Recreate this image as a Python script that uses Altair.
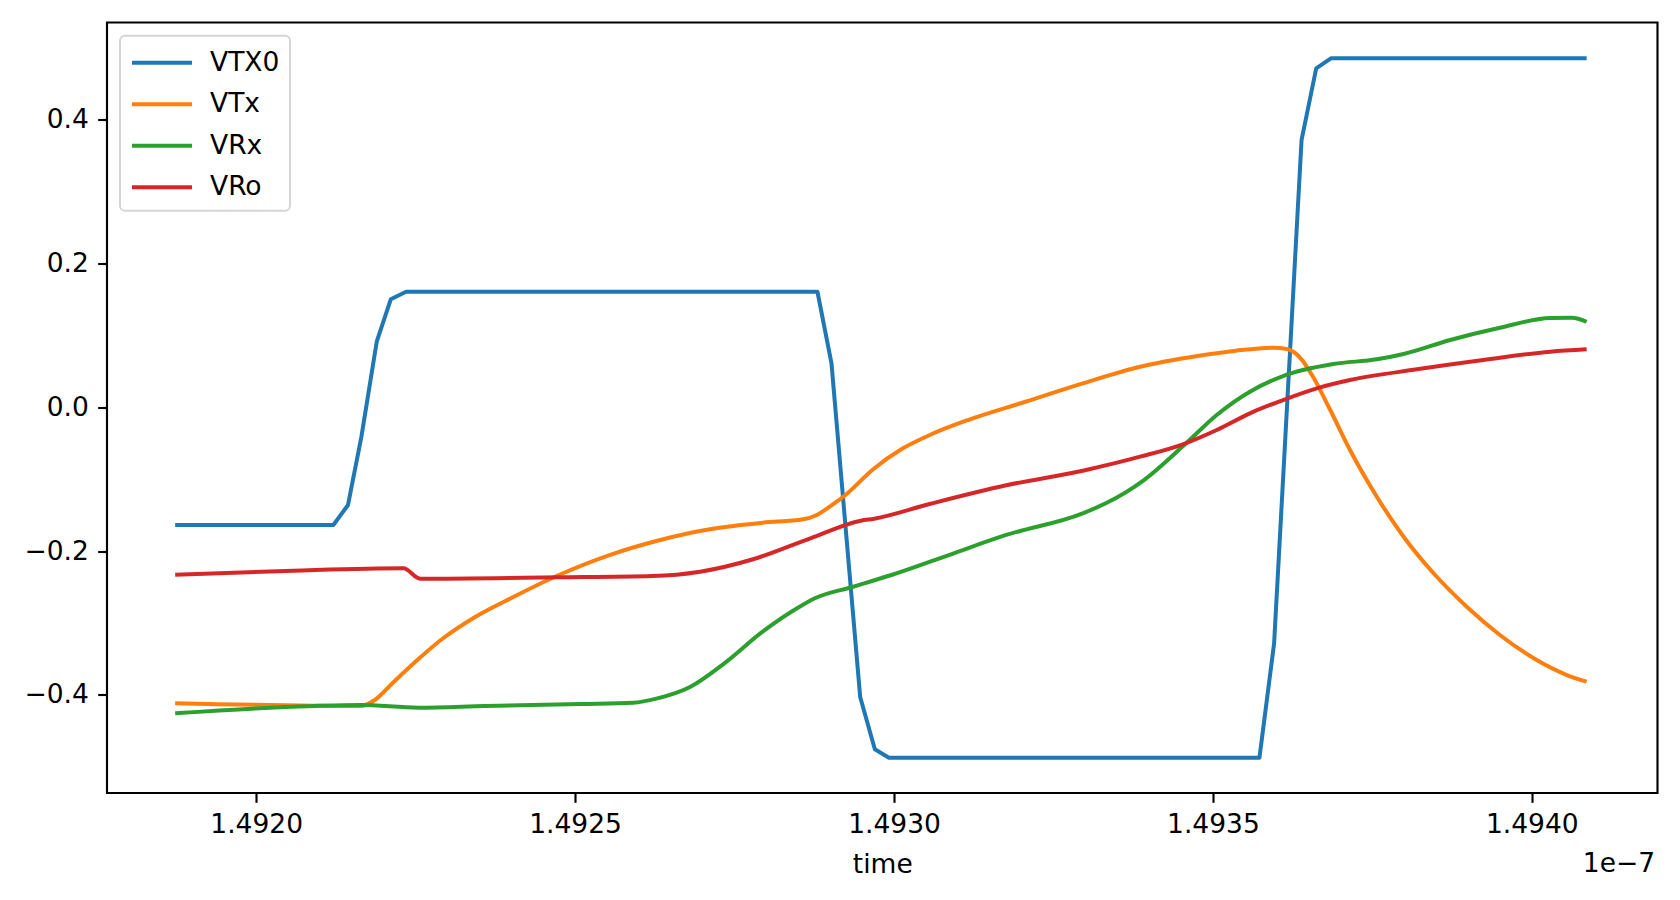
import altair as alt
import pandas as pd

# time in units of 1e-7 s, values in V
series_names = ["VTX0", "VTx", "VRx", "VRo"]
series_colors = ["#1f77b4", "#ff7f0e", "#2ca02c", "#d62728"]

vtx0_t = [1.491873, 1.492121, 1.492144, 1.492165, 1.492189, 1.492211, 1.492235,
          1.492880, 1.492902, 1.492947, 1.492970, 1.492992, 1.493573, 1.493596,
          1.493639, 1.493662, 1.493685, 1.494086]
vtx0_v = [-0.1638, -0.1638, -0.1360, -0.0410, 0.0911, 0.1501, 0.1606,
          0.1606, 0.0611, -0.4031, -0.4758, -0.4875, -0.4875, -0.3284,
          0.3716, 0.4714, 0.4853, 0.4853]

vtx_t = [1.491873, 1.492164, 1.492186, 1.492216, 1.492254, 1.492291, 1.492344,
         1.492404, 1.492471, 1.492554, 1.492629, 1.492711, 1.492794, 1.492858,
         1.492879, 1.492903, 1.492924, 1.492966, 1.493014, 1.493056, 1.493116,
         1.493206, 1.493296, 1.493386, 1.493476, 1.493536, 1.493595, 1.493616,
         1.493639, 1.493657, 1.493684, 1.493715, 1.493757, 1.493799, 1.493846,
         1.493898, 1.493950, 1.494003, 1.494055, 1.494086]
vtx_v = [-0.4117, -0.4156, -0.4072, -0.3818, -0.3506, -0.3228, -0.2914,
         -0.2636, -0.2348, -0.2056, -0.1857, -0.1698, -0.1606, -0.1559,
         -0.1499, -0.1360, -0.1221, -0.0873, -0.0572, -0.0387, -0.0178,
         0.0076, 0.0332, 0.0563, 0.0712, 0.0786, 0.0828, 0.0809,
         0.0666, 0.0424, -0.0039, -0.0595, -0.1245, -0.1801, -0.2310,
         -0.2775, -0.3168, -0.3492, -0.3725, -0.3818]

vrx_t = [1.491873, 1.492058, 1.492164, 1.492254, 1.492359, 1.492509, 1.492591,
         1.492629, 1.492681, 1.492734, 1.492794, 1.492854, 1.492876, 1.492936,
         1.492996, 1.493086, 1.493176, 1.493296, 1.493332, 1.493392, 1.493458,
         1.493506, 1.493558, 1.493610, 1.493689, 1.493757, 1.493799, 1.493872,
         1.493950, 1.494029, 1.494063, 1.494086]
vrx_v = [-0.4257, -0.4166, -0.4142, -0.4179, -0.4156, -0.4128, -0.4110,
         -0.4049, -0.3887, -0.3562, -0.3122, -0.2765, -0.2658, -0.2497,
         -0.2334, -0.2056, -0.1777, -0.1476, -0.1337, -0.1013, -0.0502,
         -0.0108, 0.0216, 0.0434, 0.0601, 0.0666, 0.0740, 0.0935,
         0.1106, 0.1241, 0.1245, 0.1189]

vro_t = [1.491873, 1.492058, 1.492231, 1.492257, 1.492471, 1.492621, 1.492696,
         1.492779, 1.492869, 1.492948, 1.492969, 1.493056, 1.493176, 1.493296,
         1.493386, 1.493454, 1.493506, 1.493558, 1.493610, 1.493663, 1.493715,
         1.493820, 1.493924, 1.494029, 1.494086]
vro_v = [-0.2330, -0.2274, -0.2241, -0.2385, -0.2366, -0.2348, -0.2288,
         -0.2115, -0.1823, -0.1579, -0.1551, -0.1346, -0.1086, -0.0883,
         -0.0688, -0.0512, -0.0317, -0.0085, 0.0100, 0.0263, 0.0378,
         0.0527, 0.0656, 0.0772, 0.0805]

x_ticks = [1.4920, 1.4925, 1.4930, 1.4935, 1.4940]
y_ticks = [-0.4, -0.2, 0.0, 0.2, 0.4]
x_domain = [1.4917661, 1.4941971]
y_domain = [-0.5366, 0.5351]

frames = []
for name, ts, vs in [("VTX0", vtx0_t, vtx0_v), ("VTx", vtx_t, vtx_v),
                     ("VRx", vrx_t, vrx_v), ("VRo", vro_t, vro_v)]:
    frames.append(pd.DataFrame({"time": ts, "value": vs, "series": name,
                                "order": range(len(ts))}))
df = pd.concat(frames, ignore_index=True)

FONT = "DejaVu Sans"
FS = 26.5

x_enc = alt.X("time:Q", title="time",
              scale=alt.Scale(domain=x_domain, nice=False, zero=False),
              axis=alt.Axis(values=x_ticks, format=".4f", grid=False, domain=False,
                            titlePadding=34, titleBaseline="alphabetic"))
y_enc = alt.Y("value:Q", title="",
              scale=alt.Scale(domain=y_domain, nice=False, zero=False),
              axis=alt.Axis(values=y_ticks, format=".1f", grid=False, domain=False))
color_enc = alt.Color("series:N",
                      scale=alt.Scale(domain=series_names, range=series_colors),
                      legend=alt.Legend(title=None, orient="none", legendX=13, legendY=13.2,
                                        symbolType="M-1,0H3", symbolSize=900,
                                        symbolStrokeWidth=4, labelOffset=46,
                                        labelFont=FONT, labelFontSize=FS, labelColor="black",
                                        padding=10, rowPadding=10.5,
                                        strokeColor="#d6d6d6",
                                        fillColor="rgba(255,255,255,0.8)", cornerRadius=5))

base = alt.Chart(df).encode(x=x_enc, y=y_enc, color=color_enc, order="order:Q")

square = base.mark_line(strokeWidth=4, strokeJoin="round", clip=True).transform_filter(
    alt.datum.series == "VTX0")
smooth = base.mark_line(strokeWidth=4, strokeJoin="round", clip=True,
                        interpolate="monotone").transform_filter(
    alt.datum.series != "VTX0")

offset_label = alt.Chart(pd.DataFrame({"txt": ["1e\u22127"]})).mark_text(
    font=FONT, fontSize=FS, align="right", baseline="alphabetic", color="black"
).encode(text="txt:N", x=alt.value(1548), y=alt.value(849.2))

chart = alt.layer(square, smooth, offset_label).properties(
    width=1550.5, height=770.5,
    autosize="none",
    padding={"left": 99, "top": 14.5, "right": 14, "bottom": 98},
).configure_view(
    stroke="black", strokeWidth=2.13
).configure_axis(
    labelFont=FONT, labelFontSize=FS, labelColor="black",
    titleFont=FONT, titleFontSize=FS, titleColor="black", titleFontWeight="normal",
    tickColor="black", tickWidth=2.13, tickSize=9.3, labelPadding=9.3,
).configure_legend(
    strokeWidth=2
)

chart.save("out.html", embed_options={"renderer": "svg", "actions": False})
